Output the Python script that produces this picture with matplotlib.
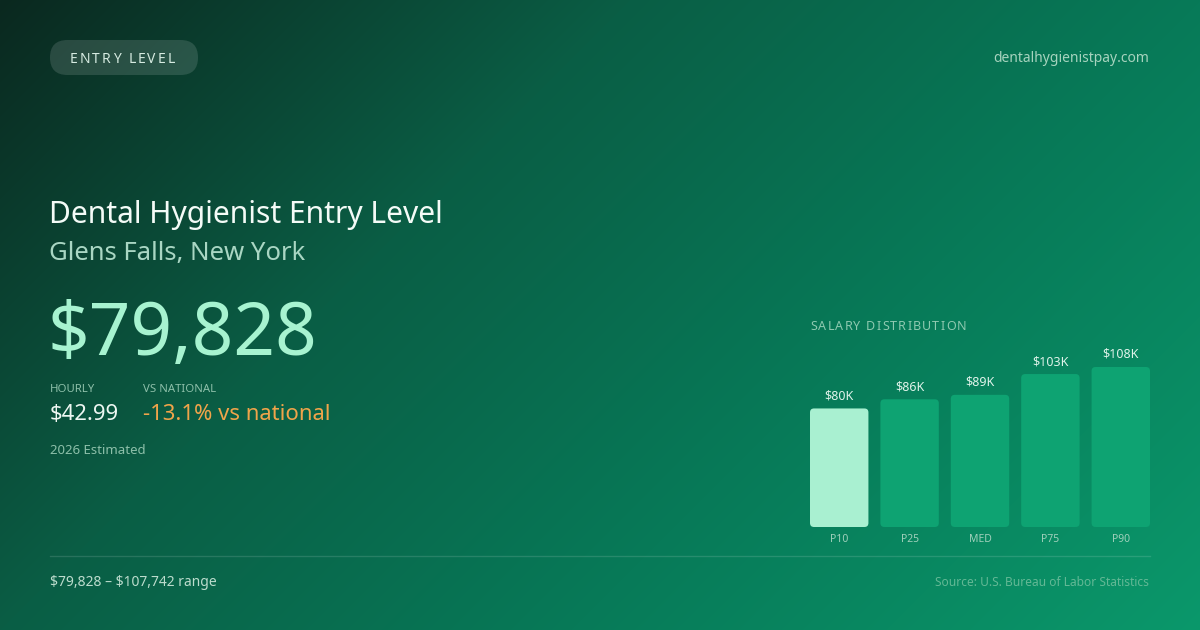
import matplotlib
matplotlib.use("Agg")
import matplotlib.pyplot as plt
import numpy as np
from matplotlib.patches import FancyBboxPatch

plt.rcParams['font.family'] = ['Noto Sans', 'DejaVu Sans']

# data
labels = ['P10', 'P25', 'MED', 'P75', 'P90']
values = [79828, 86000, 89000, 103000, 107742]
value_labels = ['$80K', '$86K', '$89K', '$103K', '$108K']
bar_colors = ['#a9f0d1', '#0ea372', '#0ea372', '#0ea372', '#0ea372']

W, H = 1200, 630
fig = plt.figure(figsize=(12, 6.3), dpi=100)

# background gradient (diagonal)
bg = fig.add_axes([0, 0, 1, 1])
bg.set_xlim(0, W)
bg.set_ylim(H, 0)
bg.axis('off')
xx, yy = np.meshgrid(np.arange(W), np.arange(H))
t = (xx + yy) / (W + H)
stops = [0.0, 0.344, 0.656, 1.0]
cols = np.array([[11, 40, 31], [10, 94, 69], [7, 122, 88], [11, 152, 107]]) / 255
img = np.zeros((H, W, 3))
for c in range(3):
    img[..., c] = np.interp(t, stops, cols[:, c])
bg.imshow(img, extent=[0, W, H, 0], aspect='auto', zorder=0)


def spaced_text(ax, x, y, s, spacing, **kw):
    # draw text with letter spacing (in px)
    r = fig.canvas.get_renderer()
    probe = ax.text(0, 0, 'x', **kw)
    wx = probe.get_window_extent(r).width
    probe.remove()
    for i, ch in enumerate(s):
        p = ax.text(0, 0, s[:i] + 'x', **kw)
        off = p.get_window_extent(r).width - wx
        p.remove()
        ax.text(x + off + i * spacing, y, ch, **kw)


# pill
pill = FancyBboxPatch((50, 40), 148, 35, boxstyle="round,pad=0,rounding_size=17.5",
                      fc='#ffffff', alpha=0.13, ec='none', zorder=2)
bg.add_patch(pill)
spaced_text(bg, 70, 63, 'ENTRY LEVEL', 2.0, fontsize=10, color='#d6ebe1', va='baseline', zorder=3)

bg.text(1149, 62.5, 'dentalhygienistpay.com', fontsize=10, color='#a6d3be', ha='right', va='baseline')

bg.text(49, 223, 'Dental Hygienist Entry Level', fontsize=21.6, color='#f4fbf7', va='baseline')
bg.text(49, 260, 'Glens Falls, New York', fontsize=18.5, color='#a9d6c3', va='baseline')
bg.text(48, 355, '$79,828', fontsize=52.5, color='#a7f3d0', va='baseline')

bg.text(50, 392, 'HOURLY', fontsize=8.2, color='#8dbfa9', va='baseline')
bg.text(143, 392, 'VS NATIONAL', fontsize=8.2, color='#8dbfa9', va='baseline')
bg.text(50, 420, '$42.99', fontsize=15.9, color='#eef7f2', va='baseline')
bg.text(143, 420, '-13.1% vs national', fontsize=15.9, color='#f0a44a', va='baseline')
bg.text(50, 453.5, '2026 Estimated', fontsize=9.5, color='#8dbfa9', va='baseline')

spaced_text(bg, 810, 330, 'SALARY DISTRIBUTION', 1.2, fontsize=9, color='#8ec9b0', va='baseline')

bg.plot([50, 1150], [556, 556], color='#ffffff', alpha=0.13, lw=1)
bg.text(50, 586, '\\$79,828 \u2013 \\$107,742 range', fontsize=10, color='#bcdccd', va='baseline')
bg.text(1149, 585.5, 'Source: U.S. Bureau of Labor Statistics', fontsize=8.6, color='#63b895',
        ha='right', va='baseline')

# bar chart
vmax = max(values)
x0, x1 = 810, 1150
ybot, ytop = 527, 367
ax = fig.add_axes([x0 / W, 1 - ybot / H, (x1 - x0) / W, (ybot - ytop) / H])
ax.set_facecolor('none')
xs = np.arange(len(values))
bw = 0.83
ax.set_xlim(-bw / 2, len(values) - 1 + bw / 2)
ax.set_ylim(0, vmax)
for s in ax.spines.values():
    s.set_visible(False)
ax.set_yticks([])
ax.set_xticks(xs)
ax.set_xticklabels(labels, fontsize=7.5, color='#9fd0bb')
ax.tick_params(axis='x', length=0, pad=5)

bars = ax.bar(xs, values, width=bw, color=bar_colors)
px_x = (x1 - x0) / (ax.get_xlim()[1] - ax.get_xlim()[0])
px_y = (ybot - ytop) / vmax
for b, c in zip(bars, bar_colors):
    b.set_visible(False)
    r = 4.0 / px_x
    ax.add_patch(FancyBboxPatch((b.get_x(), 0), b.get_width(), b.get_height(),
                                boxstyle=f"round,pad=0,rounding_size={r}",
                                mutation_aspect=px_x / px_y, fc=c, ec='none'))
for xi, v, lab in zip(xs, values, value_labels):
    ax.annotate(lab, (xi, v), xytext=(0, 6), textcoords='offset pixels', ha='center',
                va='bottom', fontsize=9, color='#dff3ea', annotation_clip=False)

fig.savefig('out.png', dpi=100)
